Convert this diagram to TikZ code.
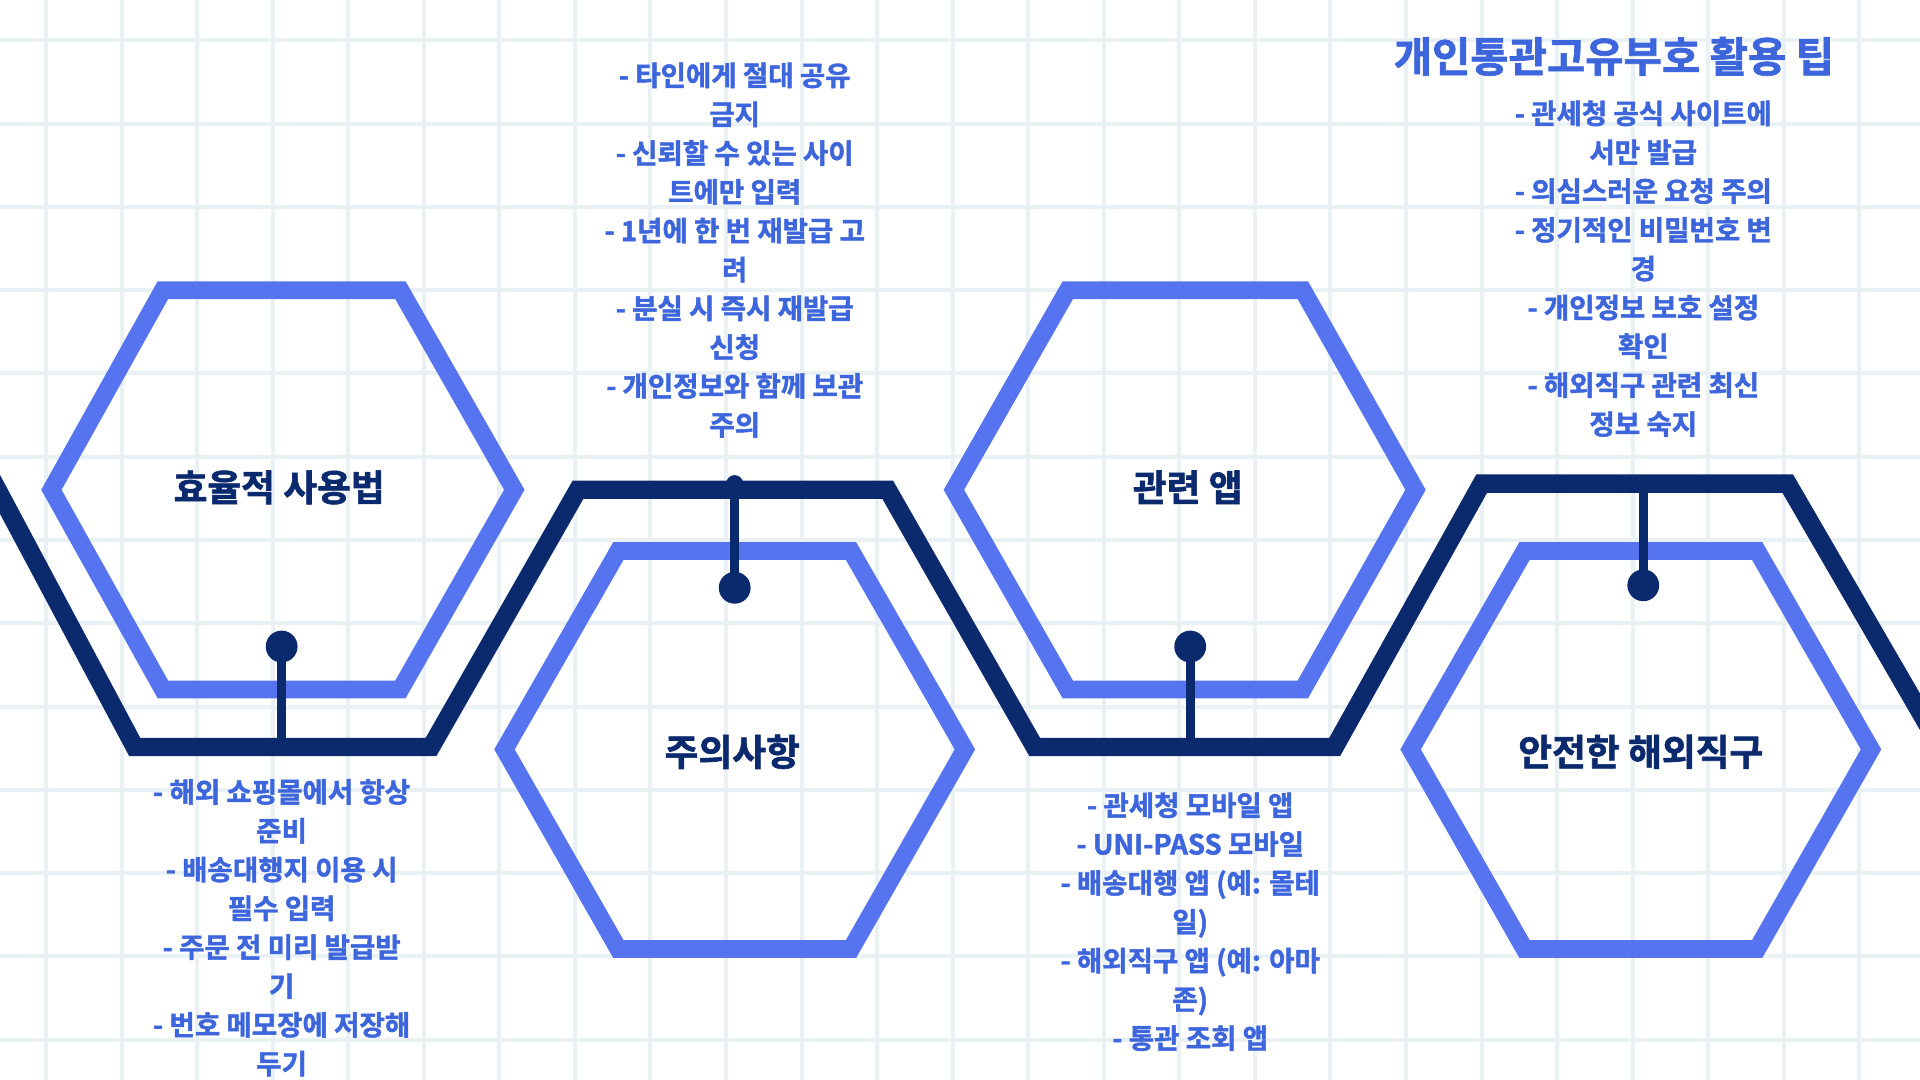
\documentclass[tikz,border=0pt]{standalone}
\usepackage{fontspec}
\setmainfont{Noto Sans CJK KR Bold}[FakeBold=1.6,AutoFakeBold=1.6]
\begin{document}
\begin{tikzpicture}[x=1pt,y=-1pt,
  hexs/.style={line width=14.5pt,draw=hexc,line join=miter},
  navy/.style={line width=15pt,draw=navyc,line join=miter},
  lbl/.style={text=navyc,font=\bfseries\fontsize{30}{34}\selectfont},
  tips/.style={text=tipc,align=center,font=\bfseries\fontsize{22.5}{31.7}\selectfont,inner sep=0pt},
  dotb/.style={circle,fill=navyc,minimum size=26pt,inner sep=0pt},
  dots/.style={circle,fill=navyc,minimum size=14pt,inner sep=0pt}]
\definecolor{hexc}{HTML}{5673F0}
\definecolor{navyc}{HTML}{0B2A6E}
\definecolor{tipc}{HTML}{3E66DC}
\definecolor{gridc}{HTML}{EAF1F5}
\useasboundingbox (0,0) rectangle (1568,882);
\fill[white] (0,0) rectangle (1568,882);
\foreach \i in {0,...,25} \draw[gridc,line width=3.3pt] (37.6+61.7*\i,0) -- (37.6+61.7*\i,882);
\foreach \j in {0,...,13} \draw[gridc,line width=3.3pt] (0,33+68*\j) -- (1568,33+68*\j);
% zigzag
\draw[navy] (-10,385) -- (110,610) -- (352,610) -- (472,400) -- (725,400) -- (845,610) -- (1090,610) -- (1210,395) -- (1460,395) -- (1580,602);
% hexagons
\draw[hexs] (133,237) -- (327,237) -- (420,400) -- (327,563) -- (133,563) -- (42,400) -- cycle;
\draw[hexs] (505,450) -- (695,450) -- (788,612) -- (695,775) -- (505,775) -- (412,612) -- cycle;
\draw[hexs] (872,237) -- (1064,237) -- (1156,400) -- (1064,563) -- (872,563) -- (779,400) -- cycle;
\draw[hexs] (1245,450) -- (1435,450) -- (1528,612) -- (1435,775) -- (1245,775) -- (1152,612) -- cycle;
\node[lbl] (h1) at (228,398) {효율적 사용법};
\node[lbl] (h2) at (598,614) {주의사항};
\node[lbl] (h3) at (970,398) {관련 앱};
\node[lbl] (h4) at (1340,614) {안전한 해외직구};
% connectors
\node[dotb] (d1a) at (230,528) {}; \node[dots] (d1b) at (230,610) {};
\node[dotb] (d2a) at (600,480) {}; \node[dots] (d2b) at (600,395) {};
\node[dotb] (d3a) at (972,528) {}; \node[dots] (d3b) at (972,610) {};
\node[dotb] (d4a) at (1342,478) {}; \node[dots] (d4b) at (1342,395) {};
\draw[navyc,line width=7pt] (d1a.center) -- (d1b.center);
\draw[navyc,line width=7pt] (d2a.center) -- (d2b.center);
\draw[navyc,line width=7pt] (d3a.center) -- (d3b.center);
\draw[navyc,line width=7pt] (d4a.center) -- (d4b.center);
% texts
\node[tips,anchor=north] (t1) at (230,636) {- 해외 쇼핑몰에서 항상\\준비\\- 배송대행지 이용 시\\필수 입력\\- 주문 전 미리 발급받\\기\\- 번호 메모장에 저장해\\두기};
\node[tips,anchor=north] (t2) at (600,51) {- 타인에게 절대 공유\\금지\\- 신뢰할 수 있는 사이\\트에만 입력\\- 1년에 한 번 재발급 고\\려\\- 분실 시 즉시 재발급\\신청\\- 개인정보와 함께 보관\\주의};
\node[tips,anchor=north] (t3) at (972,647) {- 관세청 모바일 앱\\- UNI-PASS 모바일\\- 배송대행 앱 (예: 몰테\\일)\\- 해외직구 앱 (예: 아마\\존)\\- 통관 조회 앱};
\node[text=tipc,font=\bfseries\fontsize{34}{38}\selectfont] (title) at (1318,46) {개인통관고유부호 활용 팁};
\node[tips,anchor=north] (t4) at (1342,82) {- 관세청 공식 사이트에\\서만 발급\\- 의심스러운 요청 주의\\- 정기적인 비밀번호 변\\경\\- 개인정보 보호 설정\\확인\\- 해외직구 관련 최신\\정보 숙지};
\end{tikzpicture}
\end{document}
